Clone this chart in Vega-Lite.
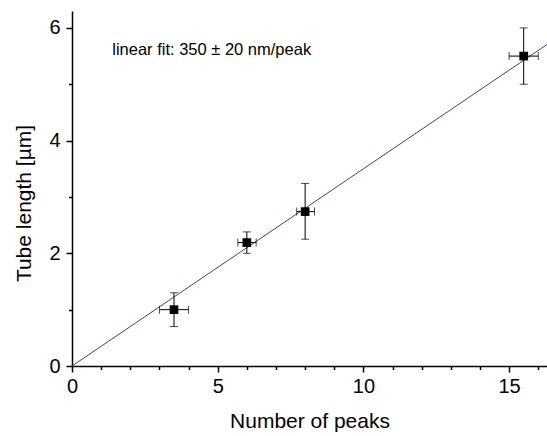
{
  "$schema": "https://vega.github.io/schema/vega-lite/v6.json",
  "width": 475,
  "height": 355,
  "autosize": "none",
  "padding": {"left": 72, "top": 11, "right": 0, "bottom": 70},
  "background": "white",
  "config": {
    "view": {"stroke": null},
    "font": "Liberation Sans",
    "axis": {
      "domainColor": "black",
      "domainWidth": 1.5,
      "tickColor": "black",
      "tickWidth": 1.5,
      "grid": false,
      "labelFont": "Liberation Sans",
      "titleFont": "Liberation Sans",
      "labelFontSize": 20,
      "titleFontSize": 21,
      "labelColor": "black",
      "titleColor": "black",
      "titleFontWeight": "normal",
      "labelOverlap": false,
      "labelFlush": false
    }
  },
  "resolve": {"axis": {"x": "independent", "y": "independent"}},
  "datasets": {
    "pts": [
      {"x": 3.5, "y": 1.0, "xlo": 3.0, "xhi": 4.0, "ylo": 0.7, "yhi": 1.3},
      {"x": 6.0, "y": 2.19, "xlo": 5.69, "xhi": 6.32, "ylo": 2.0, "yhi": 2.38},
      {"x": 8.0, "y": 2.74, "xlo": 7.71, "xhi": 8.32, "ylo": 2.25, "yhi": 3.24},
      {"x": 15.5, "y": 5.5, "xlo": 15.0, "xhi": 16.0, "ylo": 5.0, "yhi": 6.0}
    ],
    "fit": [
      {"x": 0, "y": 0},
      {"x": 16.3, "y": 5.705}
    ],
    "note": [
      {"x": 1.38, "y": 5.52, "label": "linear fit: 350 ± 20 nm/peak"}
    ]
  },
  "layer": [
    {
      "data": {"name": "fit"},
      "mark": {"type": "line", "color": "#3c3cb4", "strokeWidth": 1, "clip": true},
      "encoding": {
        "x": {
          "field": "x", "type": "quantitative",
          "scale": {"domain": [0, 16.3], "nice": false, "zero": false},
          "axis": {
            "orient": "bottom",
            "title": "Number of peaks",
            "values": [0, 5, 10, 15],
            "format": "d",
            "tickSize": 6,
            "labelPadding": 4,
            "titlePadding": 14
          }
        },
        "y": {
          "field": "y", "type": "quantitative",
          "scale": {"domain": [0, 6.3], "nice": false, "zero": false},
          "axis": {
            "orient": "left",
            "title": "Tube length [µm]",
            "values": [0, 2, 4, 6],
            "format": "d",
            "tickSize": 6,
            "labelPadding": 6,
            "titlePadding": 14,
            "titleY": 192
          }
        }
      }
    },
    {
      "data": {"name": "pts"},
      "mark": {"type": "rule", "color": "black", "strokeWidth": 1},
      "encoding": {
        "x": {
          "field": "xlo", "type": "quantitative",
          "axis": {
            "orient": "bottom",
            "title": null,
            "values": [1,2,3,4,6,7,8,9,11,12,13,14,16],
            "labels": false,
            "domain": false,
            "tickSize": 3.5
          }
        },
        "x2": {"field": "xhi"},
        "y": {
          "field": "y", "type": "quantitative",
          "axis": {
            "orient": "left",
            "title": null,
            "values": [1, 3, 5],
            "labels": false,
            "domain": false,
            "tickSize": 3.5
          }
        }
      }
    },
    {
      "data": {"name": "pts"},
      "mark": {"type": "rule", "color": "black", "strokeWidth": 1},
      "encoding": {
        "x": {"field": "x", "type": "quantitative", "axis": null},
        "y": {"field": "ylo", "type": "quantitative", "axis": null},
        "y2": {"field": "yhi"}
      }
    },
    {
      "data": {"name": "pts"},
      "mark": {"type": "tick", "orient": "vertical", "color": "black", "thickness": 1, "size": 8},
      "encoding": {
        "x": {"field": "xlo", "type": "quantitative", "axis": null},
        "y": {"field": "y", "type": "quantitative", "axis": null}
      }
    },
    {
      "data": {"name": "pts"},
      "mark": {"type": "tick", "orient": "vertical", "color": "black", "thickness": 1, "size": 8},
      "encoding": {
        "x": {"field": "xhi", "type": "quantitative", "axis": null},
        "y": {"field": "y", "type": "quantitative", "axis": null}
      }
    },
    {
      "data": {"name": "pts"},
      "mark": {"type": "tick", "orient": "horizontal", "color": "black", "thickness": 1, "size": 8},
      "encoding": {
        "x": {"field": "x", "type": "quantitative", "axis": null},
        "y": {"field": "ylo", "type": "quantitative", "axis": null}
      }
    },
    {
      "data": {"name": "pts"},
      "mark": {"type": "tick", "orient": "horizontal", "color": "black", "thickness": 1, "size": 8},
      "encoding": {
        "x": {"field": "x", "type": "quantitative", "axis": null},
        "y": {"field": "yhi", "type": "quantitative", "axis": null}
      }
    },
    {
      "data": {"name": "pts"},
      "mark": {"type": "square", "color": "black", "filled": true, "opacity": 1, "size": 75},
      "encoding": {
        "x": {"field": "x", "type": "quantitative", "axis": null},
        "y": {"field": "y", "type": "quantitative", "axis": null}
      }
    },
    {
      "data": {"name": "note"},
      "mark": {"type": "text", "align": "left", "baseline": "alphabetic", "fontSize": 16.5, "font": "Liberation Sans", "color": "black"},
      "encoding": {
        "x": {"field": "x", "type": "quantitative", "axis": null},
        "y": {"field": "y", "type": "quantitative", "axis": null},
        "text": {"field": "label"}
      }
    }
  ]
}
